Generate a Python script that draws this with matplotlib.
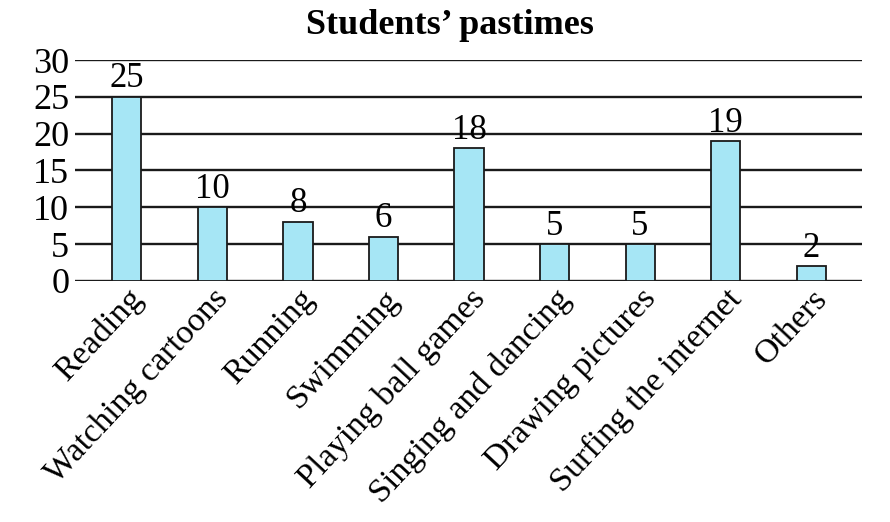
import numpy as np
import matplotlib.pyplot as plt
from matplotlib import font_manager

# pick a Times-like serif face that exists here
serif_names = ['Liberation Serif', 'Times New Roman', 'DejaVu Serif']
installed = {f.name for f in font_manager.fontManager.ttflist}
serif_pick = [n for n in serif_names if n in installed] or ['serif']
plt.rcParams['font.family'] = 'serif'
plt.rcParams['font.serif'] = serif_pick

# data
pastimes = ['Reading', 'Watching cartoons', 'Running', 'Swimming', 'Playing ball games',
            'Singing and dancing', 'Drawing pictures', 'Surfing the internet', 'Others']
students = [25, 10, 8, 6, 18, 5, 5, 19, 2]
yticks = [0, 5, 10, 15, 20, 25, 30]

x = np.arange(len(pastimes))

fig = plt.figure(figsize=(8.9, 5.22), dpi=100)
ax = fig.add_axes([0.084, 0.462, 0.885, 0.423])

# grid lines behind bars
for v in yticks:
    ax.axhline(v, color='#1a1a1a', lw=1.7, zorder=1)

ax.bar(x, students, width=0.34, color='#a6e6f5', edgecolor='#1a1a1a', lw=1.3, zorder=2)

for xi, v in zip(x, students):
    ax.text(xi, v + 0.2, str(v), ha='center', va='bottom', fontsize=25, zorder=3)

ax.set_xlim(-0.61, 8.6)
ax.set_ylim(0, 30)
ax.set_yticks(yticks)
ax.set_yticklabels([str(v) for v in yticks], fontsize=26)
ax.set_xticks(x)
ax.set_xticklabels(pastimes, fontsize=24.5, rotation=47, ha='right', rotation_mode='anchor')
ax.tick_params(axis='y', length=0, pad=4)
ax.tick_params(axis='x', length=0, pad=2)
for s in ax.spines.values():
    s.set_visible(False)

fig.text(0.505, 0.952, 'Students\u2019 pastimes', ha='center', va='center',
         fontsize=26, fontweight='bold')

fig.savefig('out.png', dpi=100)
